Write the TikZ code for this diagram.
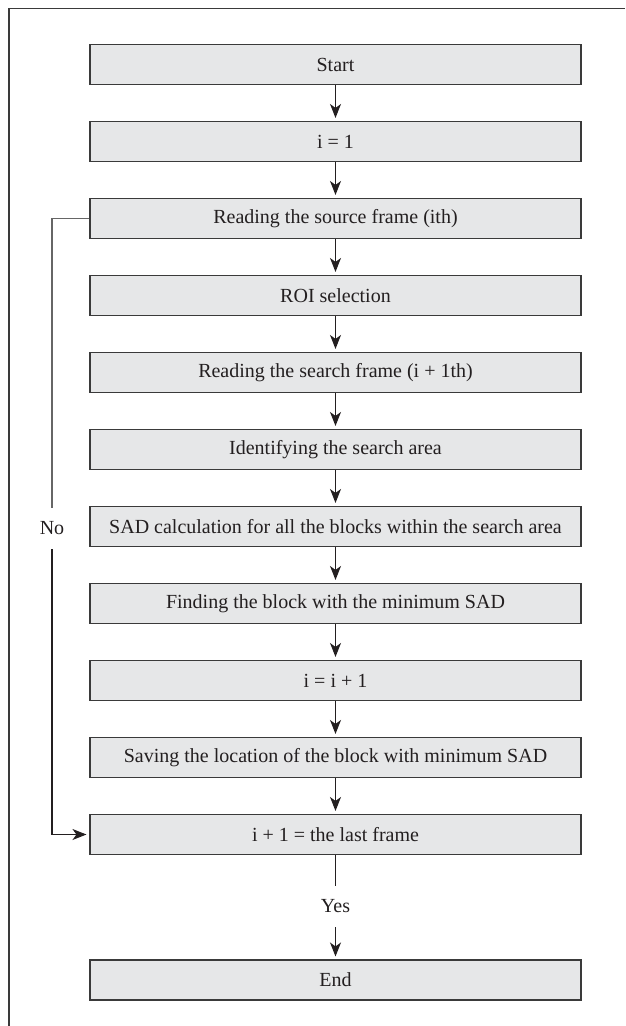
\documentclass[tikz,border=0pt]{standalone}
\usepackage{fontspec}
\setmainfont{Liberation Serif}
\usetikzlibrary{arrows.meta}
\definecolor{boxfill}{HTML}{E6E7E8}
\definecolor{boxline}{HTML}{3A3A3A}
\definecolor{ink}{HTML}{231F20}
\tikzset{
  stepbox/.style={draw=boxline, line width=1.1pt, fill=boxfill, minimum width=491pt, minimum height=40pt, inner sep=0pt, font=\fontsize{20}{24}\selectfont, text=ink},
  lbl/.style={inner sep=0pt, minimum height=41pt, font=\fontsize{20}{24}\selectfont, text=ink},
  conn/.style={draw=ink, line width=1.2pt},
  arr/.style={conn, shorten >=3pt, -{Stealth[length=14pt, width=11pt, inset=4pt]}},
  frameline/.style={draw=boxline, line width=1.2pt}
}
\begin{document}
\begin{tikzpicture}[x=1pt, y=-1pt]
\useasboundingbox (0,0) rectangle (625,1026);
\coordinate (ftop) at (625,8.5);
\coordinate (fcorner) at (9,8.5);
\coordinate (fbot) at (9,1026);
\draw[frameline] (ftop) -- (fcorner) -- (fbot);

\node[stepbox] (start) at (335.5,64.5) {Start};
\node[stepbox] (init) at (335.5,141.5) {i = 1};
\node[stepbox] (read) at (335.5,218.5) {Reading the source frame (ith)};
\node[stepbox] (roi) at (335.5,295.5) {ROI selection};
\node[stepbox] (search) at (335.5,372.5) {Reading the search frame (i + 1th)};
\node[stepbox] (area) at (335.5,449.5) {Identifying the search area};
\node[stepbox] (sad) at (335.5,526.5) {SAD calculation for all the blocks within the search area};
\node[stepbox] (find) at (335.5,603.5) {Finding the block with the minimum SAD};
\node[stepbox] (inc) at (335.5,680.5) {i = i + 1};
\node[stepbox] (save) at (335.5,757.5) {Saving the location of the block with minimum SAD};
\node[stepbox] (last) at (335.5,834.5) {i + 1 = the last frame};
\node[stepbox] (finish) at (335.5,980) {End};

\node[lbl] (no) at (52,528.5) {No};
\node[lbl] (yes) at (335.5,906.5) {Yes};

\draw[arr] (start) -- (init);
\draw[arr] (init) -- (read);
\draw[arr] (read) -- (roi);
\draw[arr] (roi) -- (search);
\draw[arr] (search) -- (area);
\draw[arr] (area) -- (sad);
\draw[arr] (sad) -- (find);
\draw[arr] (find) -- (inc);
\draw[arr] (inc) -- (save);
\draw[arr] (save) -- (last);
\draw[conn] (last) -- (yes);
\draw[arr] (yes) -- (finish);

\draw[conn, draw=black!60] (read.west) -| (no.north);
\draw[arr] (no.south) |- (last.west);
\end{tikzpicture}
\end{document}
